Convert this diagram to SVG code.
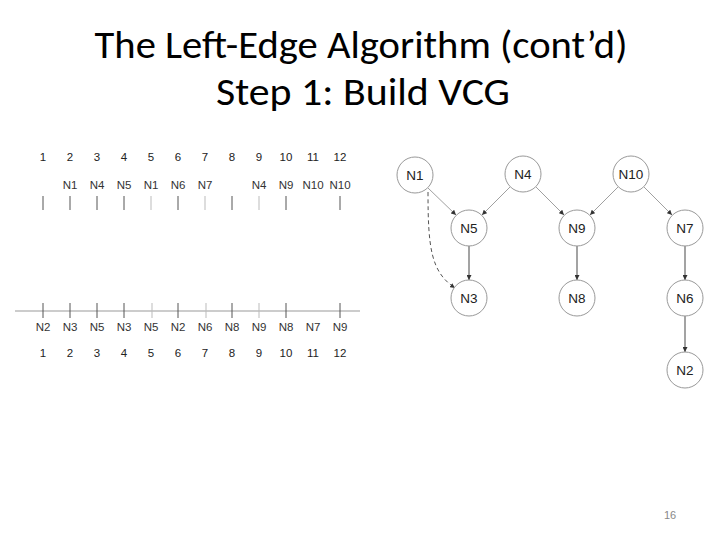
<svg xmlns="http://www.w3.org/2000/svg" width="720" height="540" viewBox="0 0 720 540">
<defs>
<style>
.title{font-family:"Carlito","Liberation Sans",sans-serif;font-size:38px;fill:#000;text-anchor:middle}
.t{font-family:"Liberation Sans",Arial,sans-serif;font-size:11.5px;fill:#333;text-anchor:middle}
.num{font-family:"Liberation Sans",Arial,sans-serif;font-size:11.5px;fill:#222;text-anchor:middle}
.nl{font-family:"Liberation Sans",Arial,sans-serif;font-size:13.5px;fill:#222;text-anchor:middle}
.node circle{fill:#fff;stroke:#999;stroke-width:1}
.tick{stroke:#555;stroke-width:1}
.tl{stroke:#bbb;stroke-width:1}
.e{fill:none;stroke:#888;stroke-width:0.8;marker-end:url(#ah)}
.v{fill:none;stroke:#666;stroke-width:1.2;marker-end:url(#ah)}
.d{fill:none;stroke:#555;stroke-width:1;stroke-dasharray:4,3;marker-end:url(#ah)}
</style>
<marker id="ah" viewBox="0 0 10 10" refX="10" refY="5" markerWidth="5" markerHeight="5" markerUnits="userSpaceOnUse" orient="auto">
<path d="M0,0 L10,5 L0,10 z" fill="#333"/>
</marker>
</defs>
<rect width="720" height="540" fill="#fff"/>
<text class="title" x="361" y="58" textLength="533" lengthAdjust="spacingAndGlyphs">The Left-Edge Algorithm (cont’d)</text>
<text class="title" x="363" y="105" textLength="294" lengthAdjust="spacingAndGlyphs">Step 1: Build VCG</text>

<g id="top-channel">
<g class="num">
<text x="43" y="161">1</text><text x="70" y="161">2</text><text x="97" y="161">3</text><text x="124" y="161">4</text><text x="151" y="161">5</text><text x="178" y="161">6</text><text x="205" y="161">7</text><text x="232" y="161">8</text><text x="259" y="161">9</text><text x="286" y="161">10</text><text x="313" y="161">11</text><text x="340" y="161">12</text>
</g>
<g class="t">
<text x="70" y="189">N1</text><text x="97" y="189">N4</text><text x="124" y="189">N5</text><text x="151" y="189">N1</text><text x="178" y="189">N6</text><text x="205" y="189">N7</text><text x="259" y="189">N4</text><text x="286" y="189">N9</text><text x="313" y="189">N10</text><text x="340" y="189">N10</text>
</g>
<path class="tick" d="M43,196V210M70,196V210M97,196V210M124,196V210M178,196V210M232,196V210M286,196V210M340,196V210"/>
<path class="tl" d="M151,196V210M205,196V210M259,196V210"/>
</g>

<g id="bottom-channel">
<path d="M15,311H360" stroke="#999" stroke-width="1"/>
<path class="tick" d="M43,303V318M70,303V318M97,303V318M124,303V318M178,303V318M232,303V318M286,303V318M340,303V318"/>
<path class="tl" d="M152,303V318M206,303V318M259,303V318"/>
<g class="t">
<text x="43" y="331">N2</text><text x="70" y="331">N3</text><text x="97" y="331">N5</text><text x="124" y="331">N3</text><text x="151" y="331">N5</text><text x="178" y="331">N2</text><text x="205" y="331">N6</text><text x="232" y="331">N8</text><text x="259" y="331">N9</text><text x="286" y="331">N8</text><text x="313" y="331">N7</text><text x="340" y="331">N9</text>
</g>
<g class="num">
<text x="43" y="357">1</text><text x="70" y="357">2</text><text x="97" y="357">3</text><text x="124" y="357">4</text><text x="151" y="357">5</text><text x="178" y="357">6</text><text x="205" y="357">7</text><text x="232" y="357">8</text><text x="259" y="357">9</text><text x="286" y="357">10</text><text x="313" y="357">11</text><text x="340" y="357">12</text>
</g>
</g>

<g id="connectors">
<path class="e" d="M428,188 L456,215"/>
<path class="e" d="M510,187 L482,215"/>
<path class="e" d="M536,187 L564,215"/>
<path class="e" d="M618,187 L590,215"/>
<path class="e" d="M644,187 L672,215"/>
<path class="v" d="M469,246 V280"/>
<path class="v" d="M577,246 V280"/>
<path class="v" d="M685,246 V280"/>
<path class="v" d="M685,316 V352"/>
<path class="d" d="M428,192 C428,248 431,272 455,288"/>
</g>

<g id="N1" class="node"><circle cx="415" cy="175" r="18"/><text class="nl" x="415" y="180">N1</text></g>
<g id="N4" class="node"><circle cx="523" cy="174" r="18"/><text class="nl" x="523" y="179">N4</text></g>
<g id="N10" class="node"><circle cx="631" cy="174" r="18"/><text class="nl" x="631" y="179">N10</text></g>
<g id="N5" class="node"><circle cx="469" cy="228" r="18"/><text class="nl" x="469" y="233">N5</text></g>
<g id="N9" class="node"><circle cx="577" cy="228" r="18"/><text class="nl" x="577" y="233">N9</text></g>
<g id="N7" class="node"><circle cx="685" cy="228" r="18"/><text class="nl" x="685" y="233">N7</text></g>
<g id="N3" class="node"><circle cx="469" cy="298" r="18"/><text class="nl" x="469" y="303">N3</text></g>
<g id="N8" class="node"><circle cx="577" cy="298" r="18"/><text class="nl" x="577" y="303">N8</text></g>
<g id="N6" class="node"><circle cx="685" cy="298" r="18"/><text class="nl" x="685" y="303">N6</text></g>
<g id="N2" class="node"><circle cx="685" cy="370" r="18"/><text class="nl" x="685" y="375">N2</text></g>

<text x="670" y="519" font-family="Liberation Sans, Arial, sans-serif" font-size="11" fill="#888" text-anchor="middle">16</text>
</svg>
